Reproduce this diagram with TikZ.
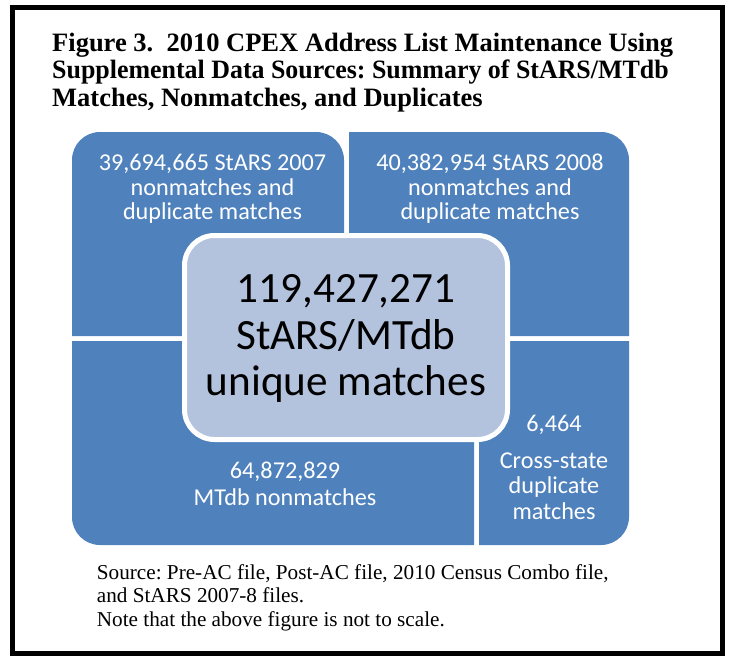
\documentclass[tikz,border=0pt]{standalone}
\usepackage{fontspec}
\usepackage{graphicx}
\setmainfont{Liberation Serif}
\newfontfamily\boxfont{Carlito}
\frenchspacing
\definecolor{boxblue}{RGB}{79,129,189}
\definecolor{centerfill}{RGB}{179,194,221}
\tikzset{
  titleline/.style={anchor=base west, inner sep=0, font=\fontsize{26.5}{30}\selectfont\bfseries},
  srcline/.style={anchor=base west, inner sep=0, font=\fontsize{21.2}{24}\selectfont},
  boxline/.style={anchor=base, inner sep=0, text=white, font=\boxfont\fontsize{24.2}{26}\selectfont},
  bigline/.style={anchor=base, inner sep=0, text=black, font=\boxfont\fontsize{43.2}{48}\selectfont},
  piece/.style={fill=boxblue}
}
\begin{document}
\begin{tikzpicture}[x=1pt,y=-1pt]
\useasboundingbox (0,0) rectangle (732,656);
\fill[white] (0,0) rectangle (732,656);
% frame
\draw[line width=5.5pt] (12.5,7.5) rectangle (722.5,654);
% title
\node[titleline] (t1) at (52,51) {Figure 3.\ \ 2010 CPEX Address List Maintenance Using};
\node[titleline] (t2) at (52,78.5) {\scalebox{0.978}[1]{Supplemental Data Sources: Summary of StARS/MTdb}};
\node[titleline] (t3) at (52,106.5) {Matches, Nonmatches, and Duplicates};
% blue pieces
\fill[piece] (72,336) [rounded corners=28] -- (72,132) -- (344,132) [sharp corners] -- (344,336) -- cycle;
\fill[piece] (349,336) -- (349,132) [rounded corners=28] -- (629,132) [sharp corners] -- (629,336) -- cycle;
\fill[piece] (474,341) -- (72,341) [rounded corners=28] -- (72,545) [sharp corners] -- (474,545) -- cycle;
\fill[piece] (479,341) -- (629,341) [rounded corners=28] -- (629,545) [sharp corners] -- (479,545) -- cycle;
% center box
\node[draw=white, line width=5pt, fill=centerfill, rounded corners=30, minimum width=323pt, minimum height=204pt, inner sep=0] (center) at (346,337.5) {};
\node[bigline] (c1) at (346,302.5) {119,427,271};
\node[bigline] (c2) at (346,349.5) {StARS/MTdb};
\node[bigline] (c3) at (346,395.5) {unique matches};
% top-left text
\node[boxline] (a1) at (212.5,170) {39,694,665 StARS 2007};
\node[boxline] (a2) at (212.5,195) {nonmatches and};
\node[boxline] (a3) at (212.5,219.5) {duplicate matches};
% top-right text
\node[boxline] (b1) at (490,170) {40,382,954 StARS 2008};
\node[boxline] (b2) at (490,195) {nonmatches and};
\node[boxline] (b3) at (490,219.5) {duplicate matches};
% bottom-left text
\node[boxline] (d1) at (285,478) {64,872,829};
\node[boxline] (d2) at (285,505) {MTdb nonmatches};
% bottom-right text
\node[boxline] (e1) at (554,431) {6,464};
\node[boxline] (e2) at (554,468) {Cross-state};
\node[boxline] (e3) at (554,493.5) {duplicate};
\node[boxline] (e4) at (554,519.5) {matches};
% source
\node[srcline] (s1) at (96.7,579) {Source: Pre-AC file, Post-AC file, 2010 Census Combo file,};
\node[srcline] (s2) at (96.7,602.5) {and StARS 2007-8 files.};
\node[srcline] (s3) at (96.7,626) {Note that the above figure is not to scale.};
\end{tikzpicture}
\end{document}
